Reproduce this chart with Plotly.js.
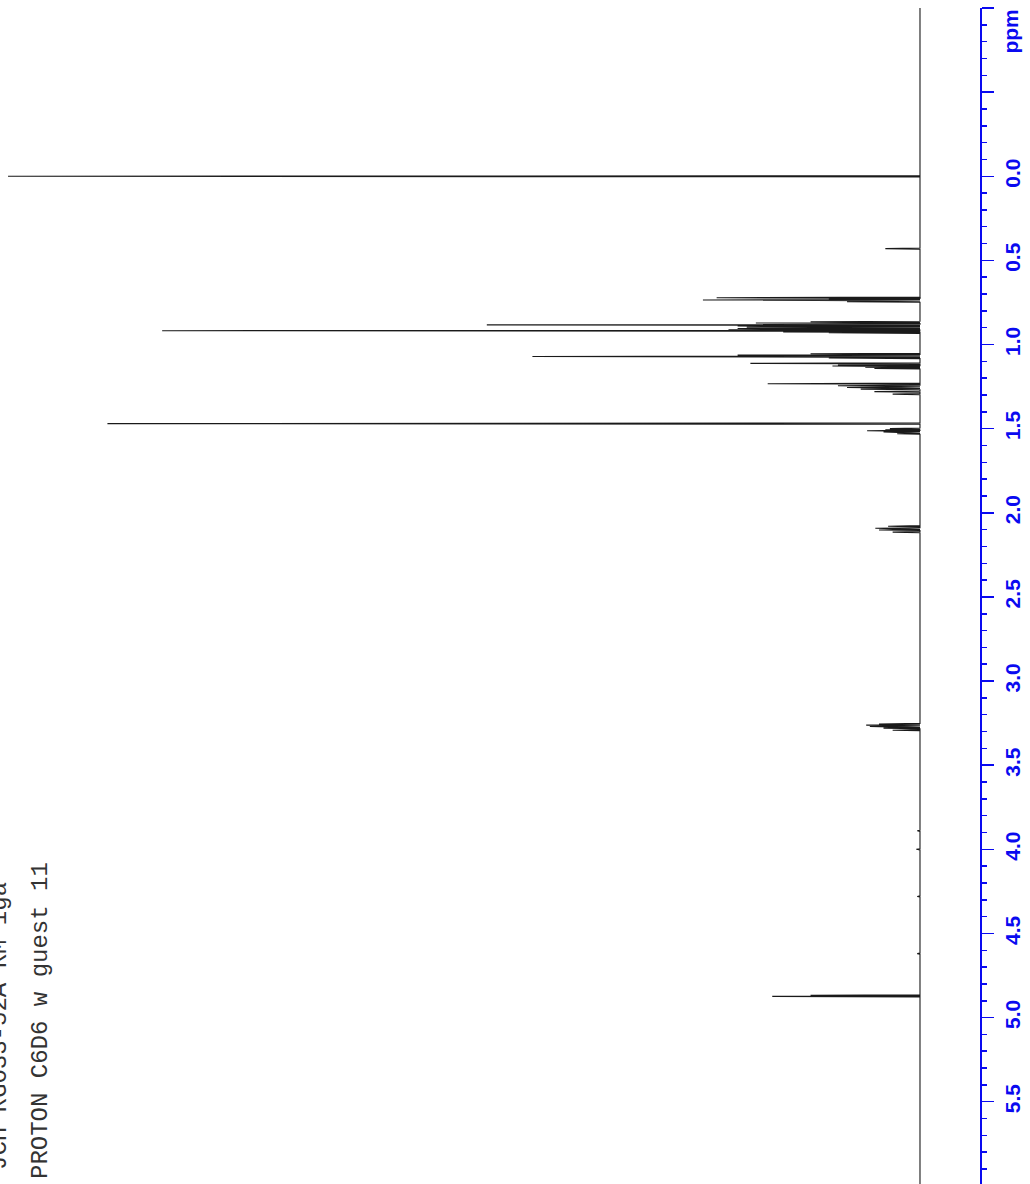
<!DOCTYPE html>
<html>
<head>
<meta charset="utf-8">
<script src="https://cdn.plot.ly/plotly-3.0.1.min.js"></script>
<style>html,body{margin:0;padding:0;background:#fff;}#chart{width:1030px;height:1184px;}</style>
</head>
<body>
<div id="chart"></div>
<script>
// Peak list: chemical shift (ppm) and relative height (% of tallest)
var peakPpm = [0.000, 0.430, 0.722, 0.727, 0.735, 0.745,
  0.865, 0.872, 0.883, 0.890, 0.897, 0.905, 0.912, 0.918, 0.925, 0.930,
  1.055, 1.063, 1.071, 1.080, 1.112, 1.122, 1.128, 1.135, 1.142,
  1.233, 1.245, 1.255, 1.265, 1.280, 1.295,
  1.470, 1.500, 1.507, 1.512, 1.520, 1.530,
  2.080, 2.092, 2.102, 2.115,
  3.255, 3.262, 3.270, 3.280, 3.292,
  3.890, 4.000, 4.280, 4.620, 4.868, 4.874];
var peakHeight = [100, 3.8, 22.3, 10, 23.8, 8,
  12, 18, 47.5, 20, 19, 20, 21, 83.1, 15, 10,
  12, 20, 42.5, 10, 18.6, 9, 9.6, 6, 5,
  16.7, 9, 8, 6.5, 5, 3,
  89.1, 3.3, 3.8, 5.8, 4, 2.5,
  3.5, 4.9, 4.5, 3,
  4.5, 5.9, 5.5, 4, 3,
  0.3, 0.4, 0.3, 0.3, 12, 16.2];
var tickPpm = [-1.0, -0.5, 0.0, 0.5, 1.0, 1.5, 2.0, 2.5, 3.0, 3.5, 4.0, 4.5, 5.0, 5.5];
var tickText = ['', '', '0.0', '0.5', '1.0', '1.5', '2.0', '2.5', '3.0', '3.5', '4.0', '4.5', '5.0', '5.5'];
var titleLine1 = 'JCH RG033-52A RM 1ga';
var titleLine2 = 'PROTON C6D6 w guest 11';
var unitLabel = 'ppm';

// build the stick-style spectrum trace from the peak list
var order = peakPpm.map(function(p, i){ return i; }).sort(function(a, b){ return peakPpm[a] - peakPpm[b]; });
var hw = 0.0035;
var sx = [0], sy = [-1.2];
order.forEach(function(i){
  var p = peakPpm[i], h = peakHeight[i];
  sx.push(0, h, 0);
  sy.push(p - hw, p, p + hw);
});
sx.push(0); sy.push(6.2);

var blue = 'rgb(10,10,240)';
var trace = {
  x: sx, y: sy, type: 'scatter', mode: 'lines',
  line: {color: '#1a1a1a', width: 1.1},
  hoverinfo: 'skip', showlegend: false
};

var labelFont = {family: 'Liberation Sans, Arial, sans-serif', size: 21, color: blue, weight: 'bold'};
var layout = {
  width: 1030, height: 1184,
  margin: {l: 0, r: 50, t: 8, b: 0, pad: 0},
  paper_bgcolor: '#fff', plot_bgcolor: '#fff',
  showlegend: false,
  xaxis: {range: [100.88, -6.58], visible: false, showgrid: false, zeroline: false, fixedrange: true},
  yaxis: {
    range: [5.989, -1.0], side: 'right', showgrid: false, zeroline: false,
    showline: true, linecolor: blue, linewidth: 2,
    ticks: 'outside', ticklen: 12, tickwidth: 1.5, tickcolor: blue,
    tickmode: 'array', tickvals: tickPpm, ticktext: tickText,
    tickangle: -90, ticklabelstandoff: 1,
    tickfont: labelFont,
    minor: {dtick: 0.1, ticklen: 5, tickwidth: 1.5, tickcolor: blue, ticks: 'outside', showgrid: false}
  },
  annotations: [
    {xref: 'paper', yref: 'y', x: 1011 / 980, y: -0.86, text: unitLabel, showarrow: false,
      textangle: -90, xanchor: 'center', yanchor: 'middle', font: labelFont},
    {xref: 'paper', yref: 'paper', x: 40 / 980, y: (1184 - 1021) / 1176, text: titleLine2, showarrow: false,
      textangle: -90, xanchor: 'center', yanchor: 'middle',
      font: {family: 'Liberation Mono, Courier New, monospace', size: 24, color: '#333'}},
    {xref: 'paper', yref: 'paper', x: -1 / 980, y: (1184 - 880) / 1176, text: titleLine1, showarrow: false,
      textangle: -90, xanchor: 'center', yanchor: 'top',
      font: {family: 'Liberation Mono, Courier New, monospace', size: 24, color: '#333'}}
  ]
};

Plotly.newPlot('chart', [trace], layout, {displayModeBar: false, staticPlot: true});
</script>
</body>
</html>
